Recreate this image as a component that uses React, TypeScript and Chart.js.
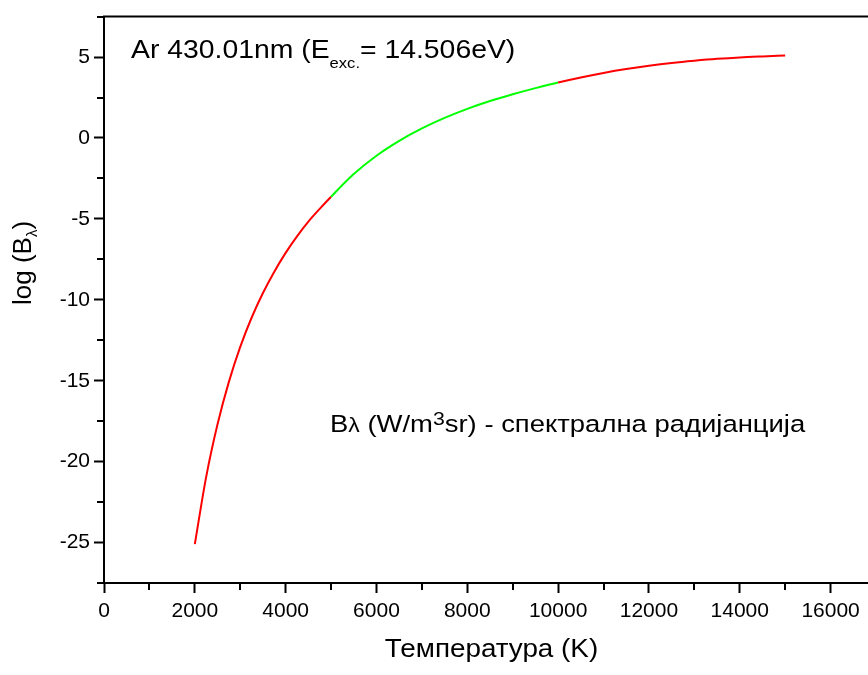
import React, { useEffect, useRef } from "react";
import { Chart, registerables } from "chart.js";

Chart.register(...registerables);

// ---- data ----
const redLowT = [2000, 2250, 2500, 2750, 3000, 3250, 3500, 3750, 4000, 4250, 4500, 4750, 5000];
const redLowLogB = [-25.1, -20.94, -17.69, -15.07, -12.91, -11.11, -9.58, -8.26, -7.1, -6.08, -5.17, -4.38, -3.63];

const greenT = [5000, 5500, 6000, 6500, 7000, 7500, 8000, 8500, 9000, 9500, 10000];
const greenLogB = [-3.63, -2.23, -1.1, -0.18, 0.59, 1.24, 1.8, 2.28, 2.7, 3.08, 3.43];

const redHighT = [10000, 10500, 11000, 11500, 12000, 12500, 13000, 13500, 14000, 14500, 15000];
const redHighLogB = [3.43, 3.74, 4.02, 4.26, 4.46, 4.63, 4.77, 4.89, 4.98, 5.04, 5.09];

const xTicks = [0, 2000, 4000, 6000, 8000, 10000, 12000, 14000, 16000];
const xMinorTicks = [1000, 3000, 5000, 7000, 9000, 11000, 13000, 15000, 17000];
const yTicks = [-25, -20, -15, -10, -5, 0, 5];
const yMinorTicks = [-27.5, -22.5, -17.5, -12.5, -7.5, -2.5, 2.5, 7.5];

const xTitle = "Температура (K)";
const yTitleMain = "log (B";
const yTitleSub = "λ";
const note1Main = "Ar 430.01nm (E";
const note1Sub = "exc.";
const note1Tail = "= 14.506eV)";
const note2 = ["B", "λ", " (W/m", "3", "sr) - спектрална радијанција"];

const RED = "#ff0000";
const GREEN = "#00ff00";
const FONT = '"Liberation Sans", Arial, sans-serif';

type Run = { text: string; size: number; dy: number };

function drawRuns(ctx: CanvasRenderingContext2D, x: number, y: number, runs: Run[], stretch: number) {
  ctx.save();
  ctx.translate(x, y);
  ctx.scale(stretch, 1);
  ctx.textBaseline = "alphabetic";
  ctx.textAlign = "left";
  ctx.fillStyle = "#000";
  let cx = 0;
  for (const r of runs) {
    ctx.font = `${r.size}px ${FONT}`;
    ctx.fillText(r.text, cx, r.dy);
    cx += ctx.measureText(r.text).width;
  }
  ctx.restore();
}

function runsWidth(ctx: CanvasRenderingContext2D, runs: Run[]) {
  let w = 0;
  for (const r of runs) {
    ctx.font = `${r.size}px ${FONT}`;
    w += ctx.measureText(r.text).width;
  }
  return w;
}

const decoPlugin = {
  id: "deco",
  afterDraw(chart: any) {
    const ctx: CanvasRenderingContext2D = chart.ctx;
    const { left, right, top, bottom } = chart.chartArea;
    const xs = chart.scales.x;
    const ys = chart.scales.y;
    ctx.save();
    ctx.strokeStyle = "#000";
    ctx.lineWidth = 2;
    ctx.beginPath();
    ctx.moveTo(left - 1, top);
    ctx.lineTo(right, top);
    ctx.lineTo(right, bottom);
    ctx.stroke();
    ctx.beginPath();
    for (const v of xMinorTicks) {
      const px = Math.round(xs.getPixelForValue(v));
      ctx.moveTo(px, bottom);
      ctx.lineTo(px, bottom + 7);
    }
    for (const v of yMinorTicks) {
      const py = Math.round(ys.getPixelForValue(v));
      ctx.moveTo(left, py);
      ctx.lineTo(left - 7, py);
    }
    ctx.stroke();
    ctx.restore();

    drawRuns(ctx, 131, 57.5, [
      { text: note1Main, size: 26.5, dy: 0 },
      { text: note1Sub, size: 15.5, dy: 10.5 },
      { text: note1Tail, size: 26.5, dy: 0 },
    ], 1.07);

    drawRuns(ctx, 330, 431.7, [
      { text: note2[0], size: 24.5, dy: 0 },
      { text: note2[1], size: 20.5, dy: 0 },
      { text: note2[2], size: 24.5, dy: 0 },
      { text: note2[3], size: 19, dy: -7 },
      { text: note2[4], size: 24.5, dy: 0 },
    ], 1.12);

    const xRuns: Run[] = [{ text: xTitle, size: 26, dy: 0 }];
    const xw = runsWidth(ctx, xRuns) * 1.07;
    drawRuns(ctx, 491.5 - xw / 2, 657, xRuns, 1.07);

    const yRuns: Run[] = [
      { text: yTitleMain, size: 26, dy: 0 },
      { text: yTitleSub, size: 15, dy: 6 },
      { text: ")", size: 26, dy: 0 },
    ];
    const yw = runsWidth(ctx, yRuns);
    ctx.save();
    ctx.translate(31, 263);
    ctx.rotate(-Math.PI / 2);
    drawRuns(ctx, -yw / 2, 0, yRuns, 1);
    ctx.restore();
  },
};

export default function App() {
  const ref = useRef<HTMLCanvasElement | null>(null);

  useEffect(() => {
    if (!ref.current) return;
    const points: { x: number; y: number }[] = [];
    const add = (T: number[], V: number[]) => {
      T.forEach((t, i) => {
        if (points.length && points[points.length - 1].x === t) return;
        points.push({ x: t, y: V[i] });
      });
    };
    add(redLowT, redLowLogB);
    add(greenT, greenLogB);
    add(redHighT, redHighLogB);
    const gStart = greenT[0];
    const gEnd = greenT[greenT.length - 1];

    const tickFont = { family: FONT, size: 21 };
    const chart = new Chart(ref.current, {
      type: "line",
      data: {
        datasets: [
          {
            data: points,
            borderColor: RED,
            backgroundColor: RED,
            borderWidth: 2,
            pointRadius: 0,
            fill: false,
            cubicInterpolationMode: "monotone",
            segment: {
              borderColor: (c: any) =>
                c.p0.parsed.x >= gStart && c.p1.parsed.x <= gEnd ? GREEN : RED,
            },
          },
        ],
      },
      options: {
        animation: false,
        responsive: false,
        devicePixelRatio: 1,
        layout: { padding: { top: 8, right: 4, left: 0, bottom: 0 } },
        plugins: { legend: { display: false }, tooltip: { enabled: false } },
        scales: {
          x: {
            type: "linear",
            min: 0,
            max: 17000,
            afterBuildTicks: (s: any) => {
              s.ticks = xTicks.map((v) => ({ value: v }));
            },
            afterFit: (s: any) => {
              s.height = 92;
            },
            ticks: {
              font: tickFont,
              color: "#000",
              padding: 6,
              maxRotation: 0,
              autoSkip: false,
              callback: (v: any) => String(v),
            },
            grid: { drawOnChartArea: false, tickLength: 10, tickColor: "#000", tickWidth: 2 },
            border: { color: "#000", width: 2 },
          },
          y: {
            type: "linear",
            min: -27.5,
            max: 7.5,
            afterBuildTicks: (s: any) => {
              s.ticks = yTicks.map((v) => ({ value: v }));
            },
            afterFit: (s: any) => {
              s.width = 104;
            },
            ticks: {
              font: tickFont,
              color: "#000",
              padding: 4,
              autoSkip: false,
              callback: (v: any) => String(v),
            },
            grid: { drawOnChartArea: false, tickLength: 10, tickColor: "#000", tickWidth: 2 },
            border: { color: "#000", width: 2 },
          },
        },
      } as any,
      plugins: [decoPlugin],
    });
    return () => chart.destroy();
  }, []);

  return (
    <div style={{ position: "absolute", left: 0, top: 0, width: 868, height: 675, overflow: "hidden", background: "#fff" }}>
      <canvas ref={ref} width={880} height={675} style={{ width: 880, height: 675, display: "block" }} />
    </div>
  );
}
